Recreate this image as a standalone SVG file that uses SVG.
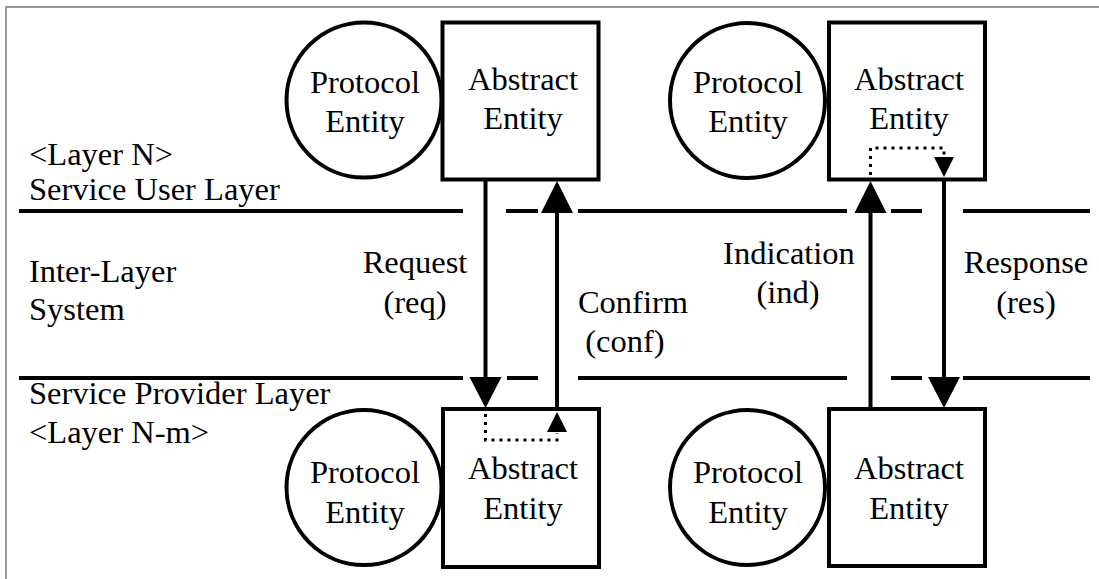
<svg xmlns="http://www.w3.org/2000/svg" width="1099" height="579" viewBox="0 0 1099 579">
  <defs>
    <style>
      text { font-family: 'Liberation Serif', 'Tinos', 'Times New Roman', 'DejaVu Serif', serif; font-size: 32.5px; fill: #000; }
      .mid { text-anchor: middle; }
      .shape { fill: #fff; stroke: #000; stroke-width: 4; }
      .layer { stroke: #000; stroke-width: 4; fill: none; }
      .flow { stroke: #000; stroke-width: 4; fill: none; }
      .dots { stroke: #000; stroke-width: 3; fill: none; stroke-dasharray: 3 5; }
      .head { fill: #000; stroke: none; }
    </style>
  </defs>

  <rect width="1099" height="579" fill="#fff"/>
  <!-- outer frame (only top and left edges fall inside the page) -->
  <path d="M6 579 V7 H1099" fill="none" stroke="#777" stroke-width="1.5"/>

  <!-- layer boundaries, broken where the primitives cross -->
  <g id="boundaries" class="layer">
    <path d="M19 211 H463 M506 211 H538 M578 211 H847 M891 211 H922 M963 211 H1090"/>
    <path d="M19 378 H463 M507 378 H538 M578 378 H847 M891 378 H922 M963 378 H1090"/>
  </g>

  <g id="layer-labels" font-family="Liberation Serif, DejaVu Serif, serif">
    <text x="29" y="165">&lt;Layer N&gt;</text>
    <text x="29" y="200">Service User Layer</text>
    <text x="29" y="282">Inter-Layer</text>
    <text x="29" y="320">System</text>
    <text x="29" y="404">Service Provider Layer</text>
    <text x="29" y="443">&lt;Layer N-m&gt;</text>
  </g>

  <!-- Layer N entities -->
  <g id="pe-top-left">
    <circle class="shape" cx="364" cy="100" r="77.5"/>
    <text class="mid" x="365" y="93">Protocol</text>
    <text class="mid" x="365" y="132">Entity</text>
  </g>
  <g id="ae-top-left">
    <rect class="shape" x="442.5" y="22.5" width="156" height="157"/>
    <text class="mid" x="523" y="90">Abstract</text>
    <text class="mid" x="523" y="129">Entity</text>
  </g>
  <g id="pe-top-right">
    <circle class="shape" cx="747.5" cy="100.5" r="77.5"/>
    <text class="mid" x="748" y="93">Protocol</text>
    <text class="mid" x="748" y="132">Entity</text>
  </g>
  <g id="ae-top-right">
    <rect class="shape" x="829" y="22.5" width="156" height="157"/>
    <text class="mid" x="909" y="90">Abstract</text>
    <text class="mid" x="909" y="129">Entity</text>
  </g>

  <!-- Layer N-m entities -->
  <g id="pe-bottom-left">
    <circle class="shape" cx="364" cy="487.5" r="77.5"/>
    <text class="mid" x="365" y="483">Protocol</text>
    <text class="mid" x="365" y="523">Entity</text>
  </g>
  <g id="ae-bottom-left">
    <rect class="shape" x="443" y="409" width="156" height="158"/>
    <text class="mid" x="523" y="479">Abstract</text>
    <text class="mid" x="523" y="519">Entity</text>
  </g>
  <g id="pe-bottom-right">
    <circle class="shape" cx="747.5" cy="487.5" r="77.5"/>
    <text class="mid" x="748" y="483">Protocol</text>
    <text class="mid" x="748" y="523">Entity</text>
  </g>
  <g id="ae-bottom-right">
    <rect class="shape" x="829" y="409" width="156" height="157"/>
    <text class="mid" x="909" y="479">Abstract</text>
    <text class="mid" x="909" y="519">Entity</text>
  </g>

  <!-- service primitives -->
  <g id="connectors">
    <!-- request: down -->
    <line class="flow" x1="485.5" y1="179" x2="485.5" y2="380"/>
    <polygon class="head" points="469.5,377 501.5,377 485.5,408"/>
    <!-- confirm: up -->
    <line class="flow" x1="557" y1="409" x2="557" y2="210"/>
    <polygon class="head" points="541,213 573,213 557,181"/>
    <!-- indication: up -->
    <line class="flow" x1="870.5" y1="409" x2="870.5" y2="210"/>
    <polygon class="head" points="854.5,213 886.5,213 870.5,181"/>
    <!-- response: down -->
    <line class="flow" x1="944" y1="179" x2="944" y2="380"/>
    <polygon class="head" points="928,377 960,377 944,408"/>

    <!-- internal hand-over inside the provider entity -->
    <path class="dots" d="M485.5 414 V440 H557 V433"/>
    <polygon class="head" points="547,432 567,432 557,412"/>
    <!-- internal hand-over inside the user entity -->
    <path class="dots" d="M870.5 175 V148 H944 V158"/>
    <polygon class="head" points="934,157 954,157 944,177"/>
  </g>

  <g id="primitive-labels">
    <text class="mid" x="415" y="273">Request</text>
    <text class="mid" x="415" y="313">(req)</text>
    <text class="mid" x="633" y="313">Confirm</text>
    <text class="mid" x="625" y="352">(conf)</text>
    <text class="mid" x="789" y="264">Indication</text>
    <text class="mid" x="788" y="303">(ind)</text>
    <text class="mid" x="1026" y="273">Response</text>
    <text class="mid" x="1026" y="313">(res)</text>
  </g>
</svg>
